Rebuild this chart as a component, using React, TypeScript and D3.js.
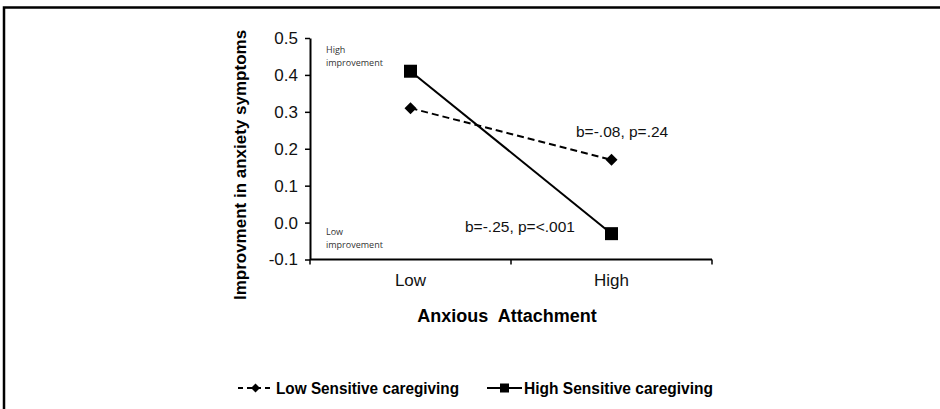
import React, { useEffect, useRef } from 'react';
import * as d3 from 'd3';

const categories = ['Low', 'High'];
const lowSensitive = [0.31, 0.17];
const highSensitive = [0.41, -0.03];
const yTicks = [-0.1, 0, 0.1, 0.2, 0.3, 0.4, 0.5];
const seriesNames = ['Low Sensitive caregiving', 'High Sensitive caregiving'];
const notes = ['b=-.08, p=.24', 'b=-.25, p=<.001'];

const FONT = '"Liberation Sans", Arial, sans-serif';

export default function App() {
    const svgRef = useRef<SVGSVGElement>(null);

    useEffect(() => {
        const svg = d3.select(svgRef.current);
        svg.selectAll('*').remove();

        const width = 940;
        const height = 409;

        svg.attr('width', width).attr('height', height);

        // frame (left + top only, the rest is cropped)
        svg.append('path')
            .attr('d', 'M4,409 V7.5 H940')
            .attr('fill', 'none')
            .attr('stroke', '#000')
            .attr('stroke-width', 2.5);

        // scales
        const x = d3.scaleBand().domain(categories).range([310, 712]);
        const y = d3.scaleLinear().domain([-0.1, 0.5]).range([259.5, 38]);
        const cx = (c) => x(c) + x.bandwidth() / 2;

        // y axis
        const yAxis = svg.append('g')
            .attr('transform', 'translate(310,0)')
            .call(d3.axisLeft(y).tickValues(yTicks).tickSize(5).tickSizeOuter(0).tickPadding(7)
                .tickFormat((d) => d.toFixed(1)));
        yAxis.select('.domain').attr('stroke-width', 2);
        yAxis.selectAll('.tick line').attr('stroke-width', 1.5);
        yAxis.selectAll('text').style('font-family', FONT).style('font-size', '17px').attr('fill', '#111');

        // x axis: ticks on band edges
        const xg = svg.append('g').attr('transform', `translate(0,${y(-0.1)})`);
        xg.append('line').attr('x1', 310).attr('x2', 712).attr('stroke', '#000').attr('stroke-width', 2);
        const edges = [...categories.map((c) => x(c)), x(categories[categories.length - 1]) + x.bandwidth()];
        xg.selectAll('.edge').data(edges).join('line')
            .attr('x1', (d) => d).attr('x2', (d) => d)
            .attr('y1', 0).attr('y2', 5)
            .attr('stroke', '#000').attr('stroke-width', 1.5);
        xg.selectAll('.lab').data(categories).join('text')
            .attr('x', (d) => cx(d)).attr('y', 26)
            .attr('text-anchor', 'middle')
            .style('font-family', FONT).style('font-size', '17px').attr('fill', '#111')
            .text((d) => d);

        // axis titles
        svg.append('text')
            .attr('x', 507).attr('y', 322)
            .attr('text-anchor', 'middle')
            .style('font-family', FONT).style('font-size', '18px').style('font-weight', 'bold')
            .attr('xml:space', 'preserve')
            .text('Anxious  Attachment');

        svg.append('text')
            .attr('transform', 'translate(246,165) rotate(-90)')
            .attr('text-anchor', 'middle')
            .style('font-family', FONT).style('font-size', '17px').style('font-weight', 'bold')
            .text('Improvment in anxiety symptoms');

        // small corner notes
        const small = (lines, x0, y0) => {
            const t = svg.append('text')
                .style('font-family', '"Open Sans", "Noto Sans", sans-serif')
                .style('font-size', '9px').attr('fill', '#333');
            lines.forEach((l, i) => t.append('tspan').attr('x', x0).attr('y', y0 + i * 12.5).text(l));
        };
        small(['High', 'improvement'], 326, 53);
        small(['Low', 'improvement'], 326, 235);

        // lines
        const line = d3.line().x((d) => d[0]).y((d) => d[1]);
        const ptsLow = categories.map((c, i) => [cx(c), y(lowSensitive[i])]);
        const ptsHigh = categories.map((c, i) => [cx(c), y(highSensitive[i])]);

        svg.append('path').attr('d', line(ptsLow)).attr('fill', 'none')
            .attr('stroke', '#000').attr('stroke-width', 2).attr('stroke-dasharray', '7,4');
        svg.append('path').attr('d', line(ptsHigh)).attr('fill', 'none')
            .attr('stroke', '#000').attr('stroke-width', 2);

        const square = d3.symbol(d3.symbolSquare, 169);
        const diamond = d3.symbol(d3.symbolSquare, 72);

        svg.selectAll('.dia').data(ptsLow).join('path')
            .attr('d', diamond)
            .attr('transform', (d) => `translate(${d[0]},${d[1]}) rotate(45)`)
            .attr('fill', '#000');
        svg.selectAll('.sq').data(ptsHigh).join('path')
            .attr('d', square)
            .attr('transform', (d) => `translate(${d[0]},${d[1]})`)
            .attr('fill', '#000');

        // annotations
        svg.append('text').attr('x', 576).attr('y', 137)
            .style('font-family', FONT).style('font-size', '15.5px').attr('fill', '#111')
            .text(notes[0]);
        svg.append('text').attr('x', 465).attr('y', 232)
            .style('font-family', FONT).style('font-size', '15.5px').attr('fill', '#111')
            .text(notes[1]);

        // legend
        const ly = 388;
        const leg = [
            { x0: 238, dash: '5,4', sym: d3.symbol(d3.symbolSquare, 40), rot: 45, tx: 276, tw: 183 },
            { x0: 487, dash: null, sym: d3.symbol(d3.symbolSquare, 81), rot: 0, tx: 524, tw: 189 },
        ];
        leg.forEach((l, i) => {
            svg.append('line')
                .attr('x1', l.x0).attr('x2', l.x0 + 35)
                .attr('y1', ly).attr('y2', ly)
                .attr('stroke', '#000').attr('stroke-width', 2)
                .attr('stroke-dasharray', l.dash);
            svg.append('path')
                .attr('d', l.sym())
                .attr('transform', `translate(${l.x0 + 17.5},${ly}) rotate(${l.rot})`)
                .attr('fill', '#000');
            svg.append('text')
                .attr('x', l.tx).attr('y', ly + 5.5)
                .attr('textLength', l.tw).attr('lengthAdjust', 'spacingAndGlyphs')
                .style('font-family', FONT).style('font-size', '16px').style('font-weight', 'bold')
                .text(seriesNames[i]);
        });
    }, []);

    return (
        <svg ref={svgRef} style={{ position: 'absolute', left: 0, top: 0, background: '#fff' }} />
    );
}
